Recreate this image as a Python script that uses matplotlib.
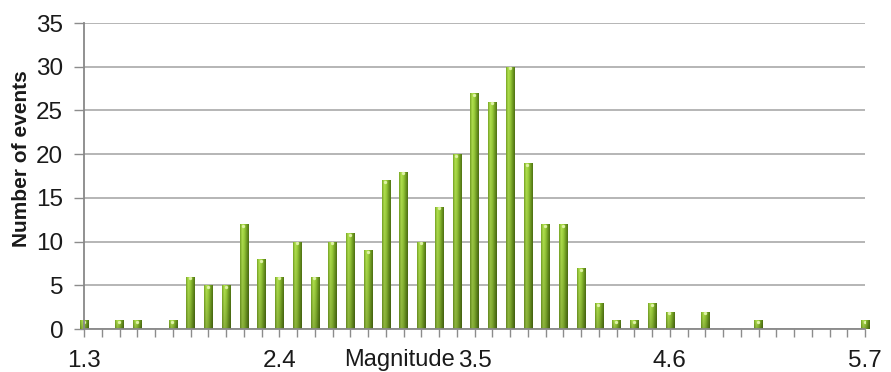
import numpy as np
import matplotlib
matplotlib.use("Agg")
import matplotlib.pyplot as plt
from matplotlib.colors import LinearSegmentedColormap

plt.rcParams['font.family'] = ['Liberation Sans', 'DejaVu Sans']

# magnitude bins 1.3 .. 5.7 and event counts per bin
magnitudes = [round(1.3 + 0.1 * i, 1) for i in range(45)]
counts = [1, 0, 1, 1, 0, 1, 6, 5, 5, 12,
          8, 6, 10, 6, 10, 11, 9, 17, 18, 10,
          14, 20, 27, 26, 30, 19, 12, 12, 7, 3,
          1, 1, 3, 2, 0, 2, 0, 0, 1, 0,
          0, 0, 0, 0, 1]
label_every = 11

W, H = 891, 372
fig = plt.figure(figsize=(W / 100, H / 100), dpi=100)
ax = fig.add_axes([84 / W, 1 - 329 / H, (865 - 84) / W, (329 - 23) / H])

x = np.arange(len(magnitudes))
bars = ax.bar(x, counts, width=0.46, color='#7aa42a', zorder=3, linewidth=0)

# cylinder-like shading: light band left of centre, darker towards the bottom
shade = LinearSegmentedColormap.from_list(
    'shade', ['#6f9a22', '#a6d24a', '#8fbf36', '#6a9420', '#4b6c12'])
across = shade(np.linspace(0, 1, 48))[:, :3]
down = np.linspace(1.08, 0.86, 64)[:, None, None]
tex = np.clip(across[None, :, :] * down, 0, 1)
for b in bars:
    h = b.get_height()
    if h <= 0:
        continue
    x0 = b.get_x()
    w = b.get_width()
    im = ax.imshow(tex, aspect='auto', extent=[x0, x0 + w, 0, h],
                   origin='upper', zorder=4, interpolation='bilinear')
    im.set_clip_path(b)
    # light cap on the top end
    ax.plot([x0 + w * 0.45], [h - 0.2], marker='o', ms=2.4, color='#dff2a8',
            mec='none', zorder=5)

ax.set_xlim(0, len(magnitudes) - 1)
ax.set_ylim(0, 35)
ax.set_yticks(range(0, 36, 5))
ax.set_xticks(x)
ax.set_xticklabels([f"{m:.1f}" if i % label_every == 0 else ""
                    for i, m in enumerate(magnitudes)])

ax.grid(axis='y', color='#b0b0b0', lw=1.3, zorder=0)
for side in ('top', 'right'):
    ax.spines[side].set_visible(False)
for side in ('left', 'bottom'):
    ax.spines[side].set_color('#888888')
    ax.spines[side].set_linewidth(1.3)
    ax.spines[side].set_zorder(6)

ax.tick_params(axis='x', direction='out', length=6, color='#8c8c8c', width=1,
               labelsize=17.5, pad=9, labelcolor='#1a1a1a')
ax.tick_params(axis='y', direction='out', length=7, color='#8c8c8c', width=1,
               labelsize=17.5, pad=8, labelcolor='#1a1a1a')

fig.text(399 / W, 1 - 360 / H, 'Magnitude', ha='center', va='center',
         fontsize=17, color='#1a1a1a')
fig.text(22 / W, 1 - 159 / H, 'Number of events', ha='center', va='center',
         rotation=90, fontsize=15, fontweight='bold', color='#1a1a1a')

fig.savefig('out.png', dpi=100)
